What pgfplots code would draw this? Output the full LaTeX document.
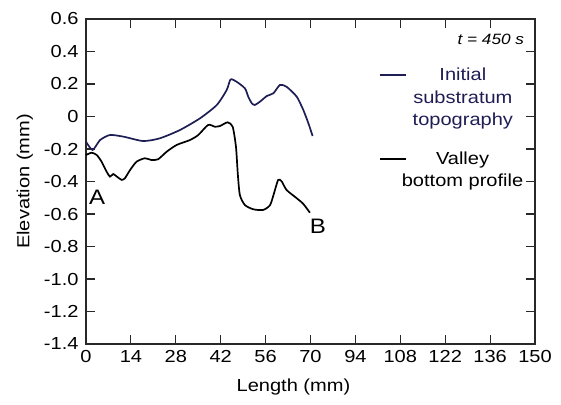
\documentclass[border=0pt]{standalone}
\usepackage{fontspec}
\setmainfont{Liberation Sans}[FakeStretch=1.15]
\usepackage{pgfplots}
\pgfplotsset{compat=1.18}
\definecolor{navy}{RGB}{30,30,85}
\definecolor{axgray}{RGB}{40,40,40}
\pgfplotstableread{
x y
0 -0.155
2.2 -0.206
4.7 -0.145
8.0 -0.114
12.5 -0.124
19.1 -0.151
24.7 -0.134
31.4 -0.083
38.1 -0.011
43.7 0.071
47.0 0.163
48.3 0.228
50.3 0.214
53.1 0.173
54.2 0.122
55.4 0.081
56.4 0.071
58.1 0.091
60.4 0.126
62.6 0.143
64.8 0.194
67.0 0.183
70.4 0.122
72.6 0.040
74.3 -0.042
75.7 -0.120
}\initial
\pgfplotstableread{
x y
0 -0.237
1.9 -0.223
3.6 -0.237
5.2 -0.278
6.9 -0.340
8.0 -0.370
9.1 -0.354
10.3 -0.370
11.9 -0.390
13.0 -0.380
14.7 -0.330
16.9 -0.278
19.7 -0.257
21.9 -0.268
24.1 -0.263
27.0 -0.216
30.3 -0.175
34.7 -0.145
37.5 -0.114
40.8 -0.052
43.1 -0.063
44.8 -0.058
47.3 -0.036
49.0 -0.063
50.1 -0.186
50.7 -0.350
51.4 -0.483
53.1 -0.545
55.9 -0.571
59.2 -0.575
61.5 -0.545
62.8 -0.473
64.2 -0.390
65.4 -0.400
67.0 -0.452
70.4 -0.503
72.6 -0.538
74.8 -0.592
}\valley
\begin{document}
\begin{tikzpicture}
\begin{axis}[
  at={(86bp,61bp)}, anchor=south west,
  width=449bp, height=325bp, scale only axis,
  xmin=0, xmax=150, ymin=-1.4, ymax=0.6,
  xtick={0,15,30,45,60,75,90,105,120,135,150},
  xticklabels={0,14,28,42,56,70,94,108,122,136,150},
  ytick={-1.4,-1.2,-1.0,-0.8,-0.6,-0.4,-0.2,0,0.2,0.4,0.6},
  yticklabels={-1.4,-1.2,-1.0,-0.8,-0.6,-0.4,-0.2,0,0.2,0.4,0.6},
  tick align=inside, major tick length=9bp,
  axis line style={axgray, line width=1.1bp},
  tick style={axgray, line width=1.1bp},
  ticklabel style={font=\fontsize{17.5}{20}\selectfont},
  xticklabel style={yshift=-3bp},
  yticklabel style={xshift=-4bp},
  xlabel={Length (mm)}, ylabel={Elevation (mm)},
  label style={font=\fontsize{17.5}{20}\selectfont},
  xlabel style={at={(axis description cs:0.462,0)}, anchor=center, yshift=-43bp},
  ylabel style={at={(axis description cs:-0.136,0.5)}, anchor=center},
  clip=false,
]
\addplot[navy, line width=1.7bp, smooth, tension=0.4] table[x=x,y=y] {\initial};
\addplot[black, line width=1.7bp, smooth, tension=0.4] table[x=x,y=y] {\valley};
\node[font=\fontsize{21}{24}\selectfont] at (axis cs:3.7,-0.495) {A};
\node[font=\fontsize{21}{24}\selectfont] at (axis cs:77.5,-0.674) {B};
\node[anchor=east, font=\fontsize{15}{17}\selectfont\itshape] at (axis cs:147.5,0.477) {t = 450 s};
\draw[navy, line width=1.5bp] (axis cs:98.2,0.255) -- (axis cs:106.9,0.255);
\node[navy, align=center, font=\fontsize{17.5}{22.5}\selectfont] at (axis cs:125.9,0.11) {Initial\\substratum\\topography};
\draw[black, line width=1.5bp] (axis cs:98.2,-0.262) -- (axis cs:106.9,-0.262);
\node[black, align=center, font=\fontsize{17.5}{22.5}\selectfont] at (axis cs:125.8,-0.335) {Valley\\bottom profile};
\end{axis}
\pgfresetboundingbox
\path[use as bounding box] (0,0) rectangle (561bp,405bp);
\end{tikzpicture}
\end{document}
